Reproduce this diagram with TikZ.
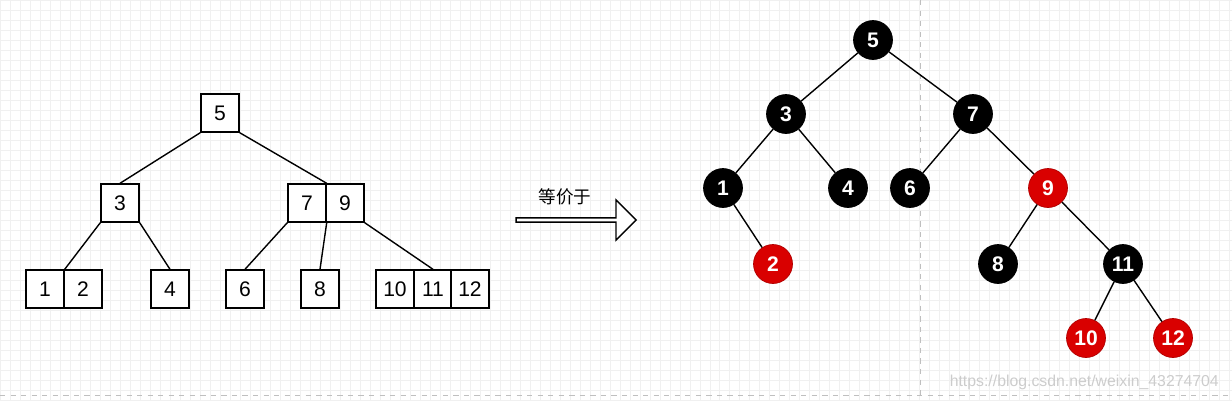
\documentclass[tikz,border=0pt]{standalone}
\usepackage{fontspec}
\setmainfont{Liberation Sans}
\newfontfamily\cjk{Noto Sans CJK SC}
\usetikzlibrary{shapes.arrows}
\tikzset{
  bbox/.style={draw=black, thick, fill=white, minimum size=0.76cm, inner sep=0pt, font=\large},
  rbnode/.style={circle, draw=black, fill=black, text=white, minimum size=0.78cm, inner sep=0pt, font=\large\bfseries},
  rednode/.style={rbnode, draw=red!70!black, fill=red!85!black},
  link/.style={draw=black, thick}
}
\begin{document}
\begin{tikzpicture}[x=0.02cm, y=-0.02cm]
            \useasboundingbox (0,0) rectangle (1232,400);
            \draw[gray!12, step=0.2cm] (0,0) grid (1232,400);
            \draw[gray!50, dashed] (920,0) -- (920,400);
            \draw[gray!50, dashed] (0,395) -- (1232,395);

            % B-tree
            \node[bbox] (b5) at (220,113) {5};
            \node[bbox] (b3) at (120,203) {3};
            \node[bbox] (b7) at (307,203) {7};
            \node[bbox] (b9) at (345,203) {9};
            \node[bbox] (b1) at (45,289) {1};
            \node[bbox] (b2) at (83,289) {2};
            \node[bbox] (b4) at (170,289) {4};
            \node[bbox] (b6) at (245,289) {6};
            \node[bbox] (b8) at (320,289) {8};
            \node[bbox] (b10) at (395,289) {10};
            \node[bbox] (b11) at (433,289) {11};
            \node[bbox] (b12) at (470,289) {12};

            \draw[link] (b5.south west) -- (b3.north);
            \draw[link] (b5.south east) -- (b7.north east);
            \draw[link] (b3.south west) -- (b1.north east);
            \draw[link] (b3.south east) -- (b4.north);
            \draw[link] (b7.south west) -- (b6.north);
            \draw[link] (b7.south east) -- (b8.north);
            \draw[link] (b9.south east) -- (b11.north);

            % arrow
            \node[single arrow, draw=black, thick, fill=white, minimum height=2.4cm,
                  minimum width=0.8cm, single arrow head extend=0.12cm, inner sep=0pt] (arr) at (575,220) {};
            \node[font=\cjk] (eq) at (565,197) {等价于};

            % red-black tree
            \node[rbnode] (r5) at (873,40) {5};
            \node[rbnode] (r3) at (786,114) {3};
            \node[rbnode] (r7) at (973,114) {7};
            \node[rbnode] (r1) at (723,188) {1};
            \node[rbnode] (r4) at (848,188) {4};
            \node[rbnode] (r6) at (910,188) {6};
            \node[rednode] (r9) at (1048,188) {9};
            \node[rednode] (r2) at (773,264) {2};
            \node[rbnode] (r8) at (998,264) {8};
            \node[rbnode] (r11) at (1123,264) {11};
            \node[rednode] (r10) at (1086,338) {10};
            \node[rednode] (r12) at (1173,338) {12};

            \foreach \a/\b in {r5/r3, r5/r7, r3/r1, r3/r4, r7/r6, r7/r9, r1/r2, r9/r8, r9/r11, r11/r10, r11/r12}
                \draw[link] (\a) -- (\b);

            \node[gray!40, font=\small, anchor=east] (mark) at (1225,382) {https://blog.csdn.net/weixin\_43274704};
\end{tikzpicture}
\end{document}
